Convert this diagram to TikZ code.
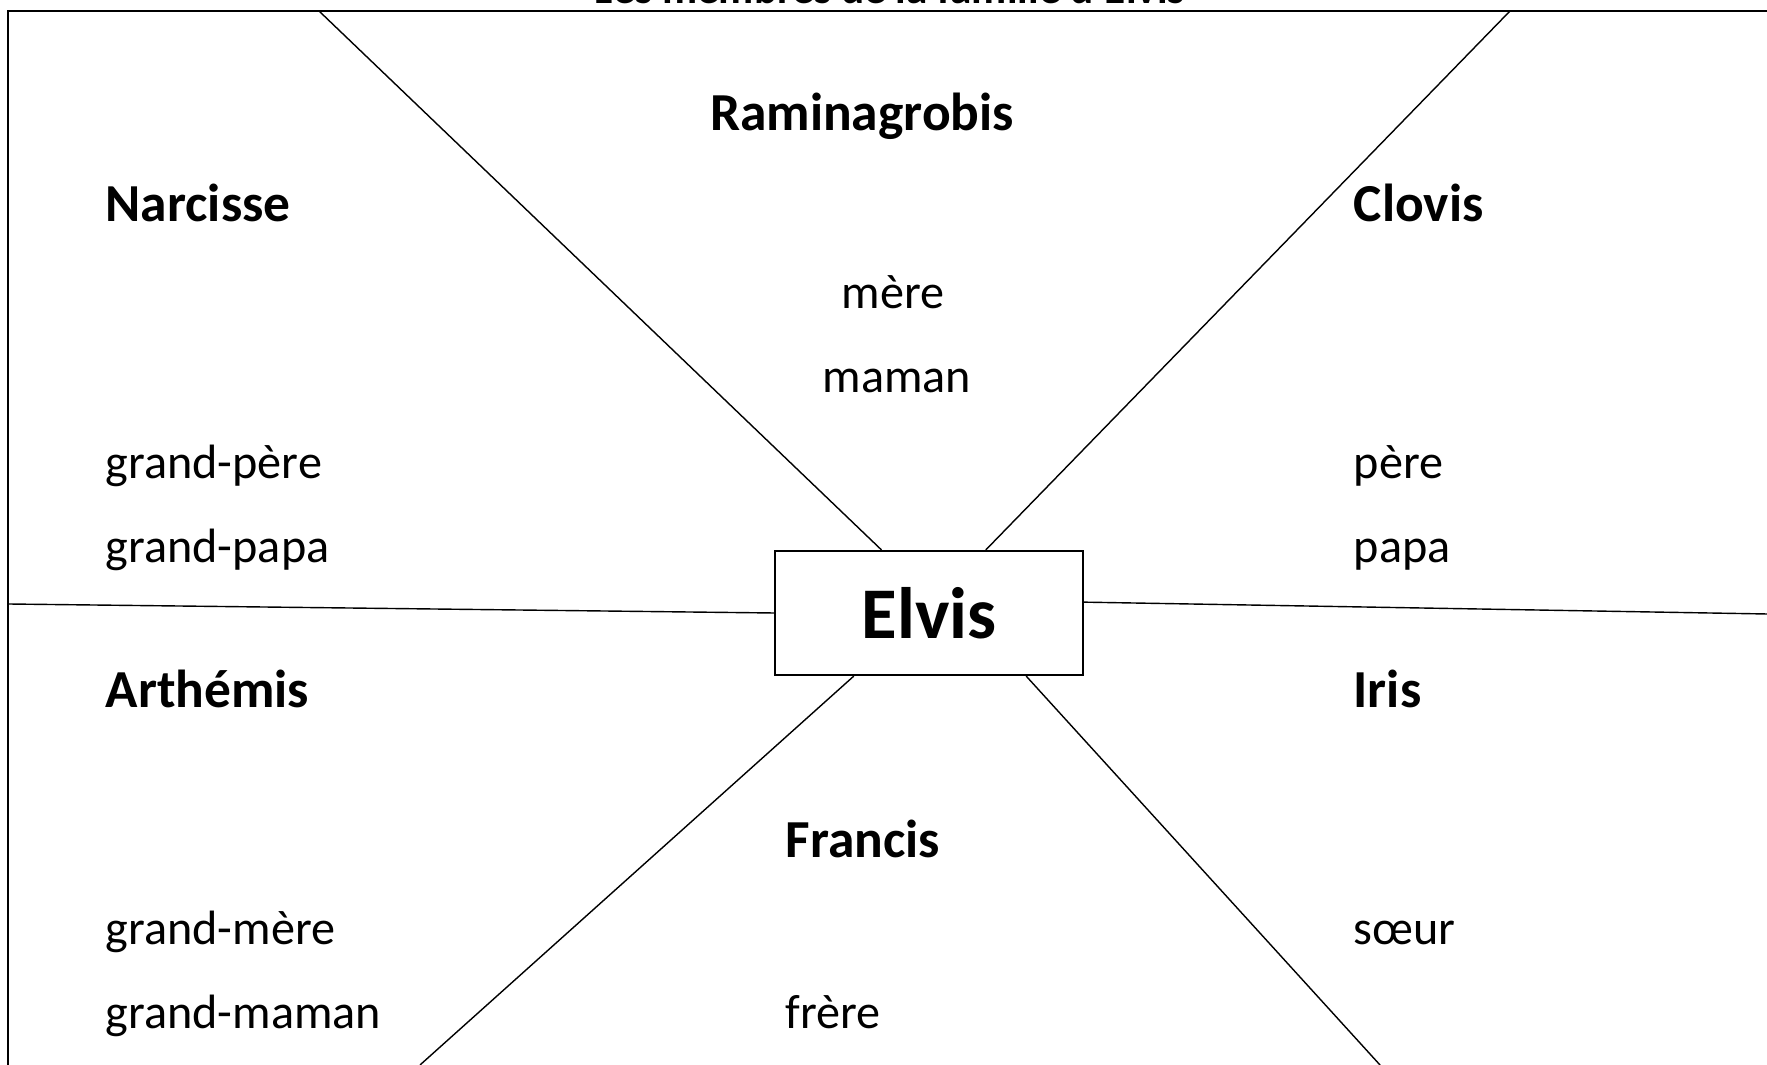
\documentclass[tikz,border=0pt]{standalone}
\usepackage{fontspec}
\setmainfont{Carlito}
\tikzset{
  nome/.style={font=\bfseries\fontsize{15.2}{18}\selectfont, inner sep=0pt},
  ruolo/.style={font=\fontsize{13.7}{16}\selectfont, inner sep=0pt},
  centro/.style={draw, line width=0.6pt, minimum width=3.08cm, minimum height=1.24cm,
    inner sep=0pt, font=\bfseries\fontsize{20.7}{24}\selectfont},
}
\begin{document}
\begin{tikzpicture}[x=0.01cm, y=-0.01cm, line width=0.4pt]
    \useasboundingbox (0,0) rectangle (1767,1065);
    \clip (0,0) rectangle (1767,1065);
    % cornice e titolo (tagliati)
    \draw[line width=0.6pt] (8,1100) -- (8,11) -- (1800,11);
    \node[nome, font=\bfseries\fontsize{12.3}{14}\selectfont, anchor=base] (titolo) at (890,3.4)
        {Les membres de la famille d'Elvis};
    % Elvis al centro
    \node[centro] (elvis) at (929,613) {Elvis};
    % estremi dei raggi
    \coordinate (no) at (319,11);
    \coordinate (ne) at (1510,11);
    \coordinate (o) at (8,604);
    \coordinate (e) at (1767,614);
    \coordinate (so) at (420,1065);
    \coordinate (se) at (1380,1065);
    \draw (elvis.127.2) -- (no);
    \draw (elvis.48.4) -- (ne);
    \draw (elvis.180) -- (o);
    \draw (elvis.4.45) -- (e);
    \draw (elvis.220.3) -- (so);
    \draw (elvis.-33.7) -- (se);
    % nomi
    \node[nome, anchor=base] (raminagrobis) at (862,131) {Raminagrobis};
    \node[nome, anchor=base west] (narcisse) at (105,222) {Narcisse};
    \node[nome, anchor=base west] (clovis) at (1353,222) {Clovis};
    \node[nome, anchor=base west] (arthemis) at (105,708) {Arthémis};
    \node[nome, anchor=base west] (iris) at (1353,708) {Iris};
    \node[nome, anchor=base west] (francis) at (785,858) {Francis};
    % legami
    \node[ruolo, anchor=base] (mere) at (893,309) {mère};
    \node[ruolo, anchor=base] (maman) at (897,393) {maman};
    \node[ruolo, anchor=base west] (gpere) at (105,479) {grand-père};
    \node[ruolo, anchor=base west] (gpapa) at (105,563) {grand-papa};
    \node[ruolo, anchor=base west] (pere) at (1353,479) {père};
    \node[ruolo, anchor=base west] (papa) at (1353,563) {papa};
    \node[ruolo, anchor=base west] (gmere) at (105,945) {grand-mère};
    \node[ruolo, anchor=base west] (gmaman) at (105,1029) {grand-maman};
    \node[ruolo, anchor=base west] (soeur) at (1353,945) {sœur};
    \node[ruolo, anchor=base west] (frere) at (785,1029) {frère};
\end{tikzpicture}
\end{document}
